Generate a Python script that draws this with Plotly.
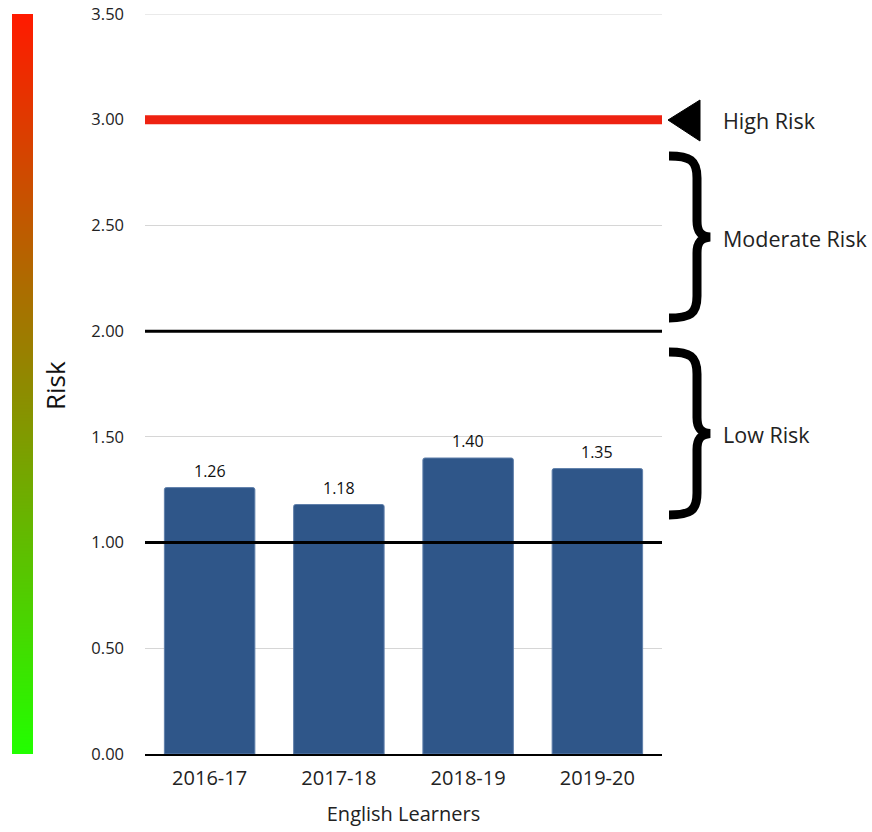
import plotly.graph_objects as go
import numpy as np

categories = ["2016-17", "2017-18", "2018-19", "2019-20"]
values = [1.26, 1.18, 1.40, 1.35]
y_ticks = [0, 0.5, 1.0, 1.5, 2.0, 2.5, 3.0, 3.5]
y_tick_labels = ["0.00", "0.50", "1.00", "1.50", "2.00", "2.50", "3.00", "3.50"]
thresholds_black = [1.0, 2.0]
threshold_red = 3.0
risk_labels = ["High Risk", "Moderate Risk", "Low Risk"]
gradient_levels = list(np.linspace(0, 3.5, 50))

W, H = 872, 832
ML, MR, MT, MB = 10, 210, 14, 78
PW = W - ML - MR
PH = H - MT - MB
YMAX = 3.5

def px(x):
    return (x - ML) / PW

def py(y):
    return (H - MB - y) / PH * YMAX

FONT = "'Open Sans', Lato, sans-serif"

fig = go.Figure()

# gradient bar
fig.add_trace(go.Heatmap(
    z=[[v] for v in gradient_levels],
    y=gradient_levels, x=[0],
    colorscale=[[0, "#22ff00"], [0.5, "#8f8a00"], [1, "#ff1a00"]],
    showscale=False, zsmooth="best", hoverinfo="skip",
    xaxis="x2", yaxis="y2",
))

fig.add_trace(go.Bar(
    x=categories, y=values,
    marker=dict(color="#2f5689", line=dict(color="#5f7faa", width=1), cornerradius=2),
    hoverinfo="skip",
))

shapes = []
# top gridline at 3.50
shapes.append(dict(type="line", xref="x domain", yref="y", x0=0, x1=1, y0=YMAX, y1=YMAX,
                   line=dict(color="#d6d6d6", width=1), layer="below"))
for t in thresholds_black:
    shapes.append(dict(type="line", xref="x domain", yref="y", x0=0, x1=1, y0=t, y1=t,
                       line=dict(color="black", width=3), layer="above"))
shapes.append(dict(type="line", xref="x domain", yref="y", x0=0, x1=1, y0=threshold_red, y1=threshold_red,
                   line=dict(color="#ee2211", width=9), layer="above"))

# triangle
tri = f"M {px(668)},{py(120)} L {px(700)},{py(100)} L {px(700)},{py(141)} Z"
shapes.append(dict(type="path", xref="paper", yref="y", path=tri, fillcolor="black",
                   line=dict(color="black", width=1)))

def brace(top, bottom):
    mid = (top + bottom) / 2
    pts = [
        ("M", [(669, top)]),
        ("C", [(690, top), (697, top + 4), (697, top + 22)]),
        ("L", [(697, mid - 16)]),
        ("C", [(697, mid - 6), (700, mid - 1), (710, mid)]),
        ("C", [(700, mid + 1), (697, mid + 6), (697, mid + 16)]),
        ("L", [(697, bottom - 22)]),
        ("C", [(697, bottom - 4), (690, bottom), (669, bottom)]),
    ]
    s = ""
    for cmd, ps in pts:
        s += cmd + " " + " ".join(f"{px(a)},{py(b)}" for a, b in ps) + " "
    return s

for top, bottom in [(156, 318), (352, 515)]:
    shapes.append(dict(type="path", xref="paper", yref="y", path=brace(top, bottom),
                       line=dict(color="black", width=9)))

annotations = []
for c, v in zip(categories, values):
    annotations.append(dict(text=f"{v:.2f}", x=c, y=v, xref="x", yref="y",
                            yanchor="bottom", yshift=4, showarrow=False,
                            font=dict(size=16, color="#111", family=FONT)))
for lab, ypix in zip(risk_labels, [120, 238, 434]):
    annotations.append(dict(text=lab, xref="paper", yref="y", x=px(721), y=py(ypix),
                            xanchor="left", yanchor="middle", showarrow=False,
                            font=dict(size=21.5, color="#222", family=FONT)))
annotations.append(dict(text="Risk", xref="paper", yref="y", x=px(55), y=py(386),
                        textangle=-90, showarrow=False, xanchor="center", yanchor="middle",
                        font=dict(size=26, color="#111", family=FONT)))

fig.update_layout(
    width=W, height=H,
    margin=dict(l=ML, r=MR, t=MT, b=MB),
    paper_bgcolor="white", plot_bgcolor="white",
    showlegend=False, bargap=0.3,
    font=dict(family=FONT, color="#222"),
    xaxis=dict(domain=[px(145), 1], showgrid=False, showline=True, linecolor="black", linewidth=1.5,
               tickfont=dict(size=20, color="#222"), ticks="", ticklabelstandoff=5, automargin=False,
               title=dict(text="English Learners", font=dict(size=20, color="#222"), standoff=17)),
    yaxis=dict(range=[0, YMAX], tickvals=y_ticks, ticktext=y_tick_labels, automargin=False,
               showgrid=True, gridcolor="#d6d6d6", gridwidth=1, zeroline=False,
               tickfont=dict(size=16.5, color="#222"), ticks="", ticklabelstandoff=20),
    xaxis2=dict(domain=[px(12), px(33)], anchor="y2", visible=False, range=[-0.5, 0.5]),
    yaxis2=dict(domain=[0, 1], anchor="x2", visible=False, range=[0, YMAX]),
    shapes=shapes, annotations=annotations,
)

fig.write_html("out.html")
